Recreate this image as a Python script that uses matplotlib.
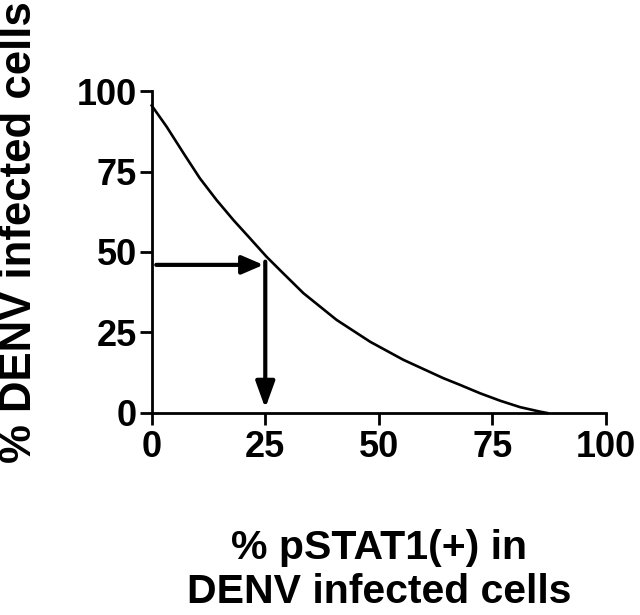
import matplotlib
matplotlib.use("Agg")
import matplotlib.pyplot as plt

plt.rcParams['font.family'] = ['Liberation Sans', 'DejaVu Sans']
plt.rcParams['font.weight'] = 'bold'

# curve
pstat1 = [0.0, 3.3, 7.0, 10.6, 14.3, 18.0, 21.6, 25.3, 28.5, 33.4, 40.7,
          48.1, 55.4, 64.2, 67.9, 72.3, 76.7, 81.1, 85.5, 87.0]
denv = [95.5, 88.9, 80.7, 72.9, 66.1, 59.9, 54.3, 48.5, 44.0, 37.2, 28.9,
        22.1, 16.5, 10.8, 8.7, 6.1, 3.8, 1.8, 0.4, 0.0]

# read-out arrows
arrow_x = [1.0, 24.6]
arrow_y = [46.0, 1.5]

ticks = [0, 25, 50, 75, 100]

fig = plt.figure(figsize=(6.4, 6.15), dpi=100)
ax = fig.add_axes([0.237, 0.3285, 0.71, 0.5235])

ax.plot(pstat1, denv, color='black', lw=1.9, clip_on=False, zorder=3,
        solid_joinstyle='round')

arrowprops = dict(arrowstyle='-|>,head_length=0.65,head_width=0.28', lw=3,
                  color='black', shrinkA=0, shrinkB=0, mutation_scale=20)
ax.annotate('', xy=(arrow_x[1], arrow_y[0]), xytext=(arrow_x[0], arrow_y[0]),
            arrowprops=arrowprops)
ax.annotate('', xy=(25, arrow_y[1]), xytext=(25, 47.0),
            arrowprops=dict(arrowprops, arrowstyle='-|>,head_length=0.8,head_width=0.29'))

ax.set_xlim(0, 100)
ax.set_ylim(0, 100)
ax.set_xticks(ticks)
ax.set_yticks(ticks)
ax.tick_params(direction='out', length=8.5, width=2, labelsize=26, pad=4)
ax.tick_params(axis='y', pad=2)
for s in ['top', 'right']:
    ax.spines[s].set_visible(False)
for s in ['left', 'bottom']:
    ax.spines[s].set_linewidth(2)

ax.set_xlabel('% pSTAT1(+) in\nDENV infected cells', fontsize=29.5,
              fontweight='bold', linespacing=1.2, labelpad=46)
fig.text(20 / 640, 1 - 232 / 615, '% DENV infected cells', fontsize=31.5,
         fontweight='bold', rotation=90, ha='center', va='center')

plt.savefig('out.png', dpi=100)
